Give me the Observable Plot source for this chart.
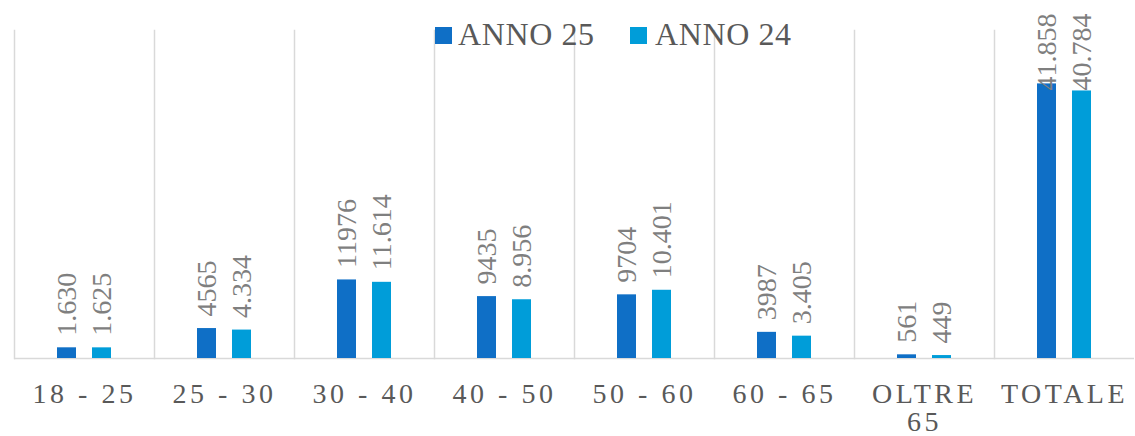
<!DOCTYPE html>
<html><head><meta charset="utf-8">
<script src="https://cdn.jsdelivr.net/npm/d3@7"></script>
<script src="https://cdn.jsdelivr.net/npm/@observablehq/plot@0.6"></script>
<style>
body{margin:0;background:#fff;font-family:'Liberation Serif','Times New Roman',serif;}
#wrap{position:relative;width:1135px;height:436px;overflow:hidden;}
#legend{position:absolute;left:0;top:0;font-family:'Liberation Serif','Times New Roman',serif;font-size:32px;color:#595959;}
.sw{position:absolute;width:17px;height:17px;}
.lt{position:absolute;line-height:32px;white-space:nowrap;letter-spacing:0.6px;}
#chart svg, #chart svg text{font-family:'Liberation Serif','Times New Roman',serif !important;}
#chart svg [aria-label^="fx-axis"] text{letter-spacing:3.5px;}
</style></head>
<body><div id="wrap"><div id="chart"></div><div id="legend"></div></div>
<script>
const categories = ["18 - 25","25 - 30","30 - 40","40 - 50","50 - 60","60 - 65","OLTRE 65","TOTALE"];
const series = ["ANNO 25","ANNO 24"];
const anno25 = [1630,4565,11976,9435,9704,3987,561,41858];
const anno24 = [1625,4334,11614,8956,10401,3405,449,40784];
const labels25 = ["1.630","4565","11976","9435","9704","3987","561","41.858"];
const labels24 = ["1.625","4.334","11.614","8.956","10.401","3.405","449","40.784"];
const colors = ["#0F6FC6","#009DD9"];

const data = categories.flatMap((c,i)=>[
  {cat:c, series:series[0], value:anno25[i], label:labels25[i]},
  {cat:c, series:series[1], value:anno24[i], label:labels24[i]}
]);

const plot = Plot.plot({
  width:1135, height:436, marginLeft:12, marginRight:0, marginTop:30, marginBottom:78,
  style:{fontFamily:"'Liberation Serif', 'Times New Roman', serif", fontSize:"28px", color:"#595959", background:"transparent", overflow:"visible"},
  fx:{domain:categories, padding:0, label:null, axis:"bottom", tickSize:0, tickPadding:25,
      tickFormat: d => d.replace("OLTRE ","OLTRE\n")},
  x:{domain:series, paddingInner:0.444, paddingOuter:1.1667, axis:null},
  y:{domain:[0,50000], axis:null},
  color:{domain:series, range:colors},
  marks:[
    Plot.frame({anchor:"left", stroke:"#d9d9d9", strokeWidth:1.5}),
    Plot.ruleY([0], {stroke:"#d9d9d9", strokeWidth:1.5}),
    Plot.barY(data, {fx:"cat", x:"series", y:"value", fill:"series"}),
    Plot.text(data.filter(d=>d.cat!=="TOTALE"), {fx:"cat", x:"series", y:"value", text:"label", rotate:-90, textAnchor:"start", lineAnchor:"middle", dy:-12, fontSize:28, fill:"#7f7f7f"}),
    Plot.text(data.filter(d=>d.cat==="TOTALE"), {fx:"cat", x:"series", frameAnchor:"top", text:"label", rotate:-90, textAnchor:"end", lineAnchor:"middle", dy:-17, fontSize:28, fill:"#7f7f7f"})
  ]
});
document.getElementById("chart").appendChild(plot);

const legend = document.getElementById("legend");
const swLeft = [435, 630], txLeft = [458, 655];
series.forEach((s,i)=>{
  const sw = document.createElement("div");
  sw.className = "sw"; sw.style.left = swLeft[i]+"px"; sw.style.top = "27px"; sw.style.background = colors[i];
  const t = document.createElement("div");
  t.className = "lt"; t.style.left = txLeft[i]+"px"; t.style.top = "17.5px"; t.textContent = s;
  legend.appendChild(sw); legend.appendChild(t);
});
</script>
</body></html>
